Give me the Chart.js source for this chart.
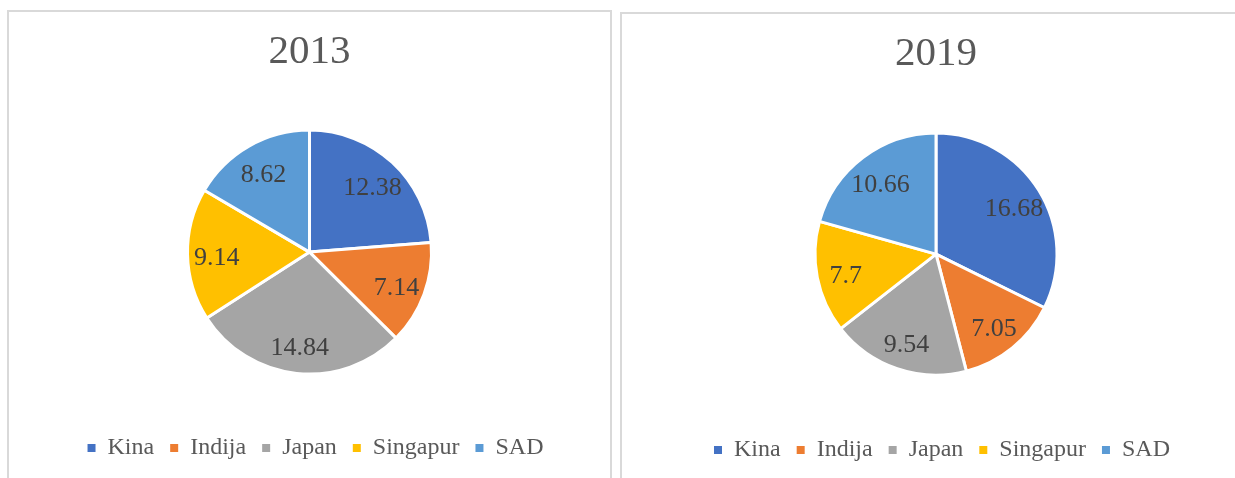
<!DOCTYPE html>
<html>
<head>
<meta charset="utf-8">
<script src="https://cdn.jsdelivr.net/npm/chart.js@4/dist/chart.umd.min.js"></script>
<style>
    html, body { margin: 0; padding: 0; background: #fff; }
    body { width: 1235px; height: 478px; overflow: hidden; position: relative; }
    .panel {
        position: absolute;
        border: 2px solid #d9d9d9;
        border-bottom: none;
        height: 480px;
        background: #fff;
    }
    #p1 { left: 7px; top: 10px; width: 601px; }
    #p2 { left: 620px; top: 12px; width: 628px; }
    .panel canvas { position: absolute; left: 0; top: 0; }
</style>
</head>
<body>
<div class="panel" id="p1"><canvas id="pie-2013"></canvas></div>
<div class="panel" id="p2"><canvas id="pie-2019"></canvas></div>
<script>
var labels = ['Kina', 'Indija', 'Japan', 'Singapur', 'SAD'];
var values2013 = [12.38, 7.14, 14.84, 9.14, 8.62];
var values2019 = [16.68, 7.05, 9.54, 7.7, 10.66];
var colors = ['#4472c4', '#ed7d31', '#a5a5a5', '#ffc000', '#5b9bd5'];

var serif = '"Liberation Serif", "Times New Roman", serif';

// value labels inside the slices
var sliceLabels = {
    id: 'sliceLabels',
    afterDatasetsDraw: function (chart) {
        var ctx = chart.ctx;
        var meta = chart.getDatasetMeta(0);
        var data = chart.data.datasets[0].data;
        ctx.save();
        ctx.font = '26px ' + serif;
        ctx.fillStyle = '#404040';
        ctx.textAlign = 'center';
        ctx.textBaseline = 'middle';
        meta.data.forEach(function (arc, i) {
            var p = arc.getProps(['x', 'y', 'startAngle', 'endAngle', 'outerRadius'], true);
            var mid = (p.startAngle + p.endAngle) / 2;
            var r = p.outerRadius * 0.76;
            ctx.fillText(String(data[i]), p.x + Math.cos(mid) * r, p.y + Math.sin(mid) * r + 4);
        });
        ctx.restore();
    }
};

// excel puts the legend a little right of centre
var legendShift = {
    id: 'legendShift',
    afterLayout: function (chart) {
        chart.legend.left += 6;
        chart.legend.right += 6;
    }
};

function createPie(id, title, values, radius, width) {
    var canvas = document.getElementById(id);
    canvas.width = width;
    canvas.height = 458;
    canvas.style.width = width + 'px';
    canvas.style.height = '458px';
    new Chart(canvas, {
        type: 'pie',
        data: {
            labels: labels,
            datasets: [{
                data: values,
                backgroundColor: colors,
                borderColor: '#ffffff',
                borderWidth: 3,
                radius: radius
            }]
        },
        options: {
            responsive: false,
            animation: false,
            plugins: {
                title: {
                    display: true,
                    text: title,
                    color: '#595959',
                    font: { family: serif, size: 41, weight: 'normal', lineHeight: 1.2 },
                    padding: { top: 16, bottom: 7 }
                },
                legend: {
                    position: 'bottom',
                    labels: {
                        color: '#595959',
                        font: { family: serif, size: 24 },
                        boxWidth: 8,
                        boxHeight: 8,
                        padding: 16,
                        generateLabels: function (chart) {
                            var items = Chart.overrides.pie.plugins.legend.labels.generateLabels(chart);
                            items.forEach(function (it) {
                                it.lineWidth = 0;
                                it.strokeStyle = it.fillStyle;
                            });
                            return items;
                        }
                    }
                },
                tooltip: { enabled: false }
            }
        },
        plugins: [sliceLabels, legendShift]
    });
}

createPie('pie-2013', '2013', values2013, 122, 601);
createPie('pie-2019', '2019', values2019, 121, 628);
</script>
</body>
</html>
